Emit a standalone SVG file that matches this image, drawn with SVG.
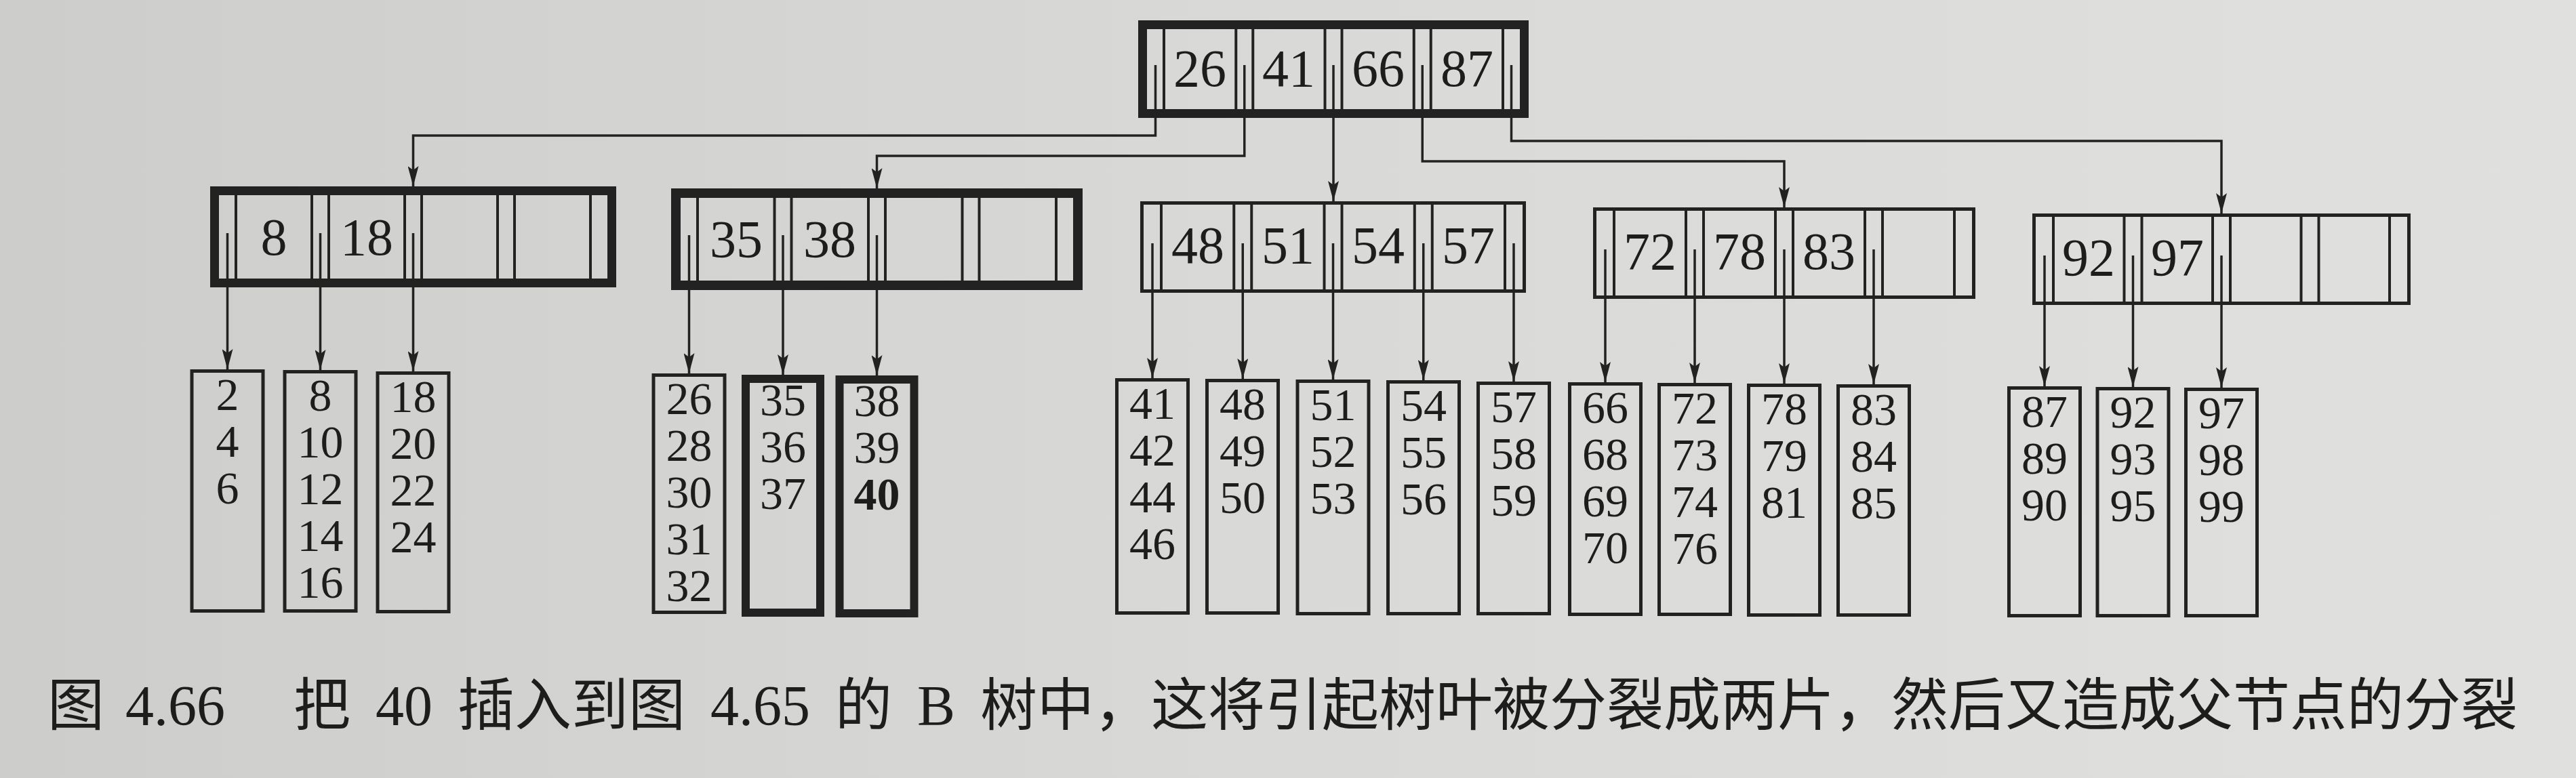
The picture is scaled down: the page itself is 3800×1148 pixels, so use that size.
<svg xmlns="http://www.w3.org/2000/svg" width="3800" height="1148" viewBox="0 0 3800 1148">
<defs>
<linearGradient id="paper" x1="0" y1="0" x2="1" y2="0">
<stop offset="0" stop-color="#cdcdcb"/>
<stop offset="0.5" stop-color="#d9d9d7"/>
<stop offset="1" stop-color="#e0e0de"/>
</linearGradient>
<marker id="arr" viewBox="0 0 30 16" refX="30" refY="8" markerWidth="30" markerHeight="16" markerUnits="userSpaceOnUse" orient="auto">
<path d="M0,0 L30,8 L0,16 L6,8 Z" fill="#222"/>
</marker>
</defs>
<style>
.thick{fill:none;stroke:#222;stroke-width:13}
.thickleaf{fill:none;stroke:#222;stroke-width:12}
.thin{fill:none;stroke:#222;stroke-width:5}
.div{fill:none;stroke:#222;stroke-width:4}
.key{font-family:"Liberation Serif","Times New Roman",serif;font-size:78px;fill:#1d1d1d;text-anchor:middle}
.lf{font-family:"Liberation Serif","Times New Roman",serif;font-size:68px;fill:#1d1d1d;text-anchor:middle}
.conn{fill:none;stroke:#222;stroke-width:3.5;marker-end:url(#arr)}
.cap{font-family:"Liberation Serif","Noto Sans CJK SC",serif;font-size:84px;fill:#1d1d1d}
</style>
<rect x="0" y="0" width="3800" height="1148" fill="url(#paper)"/>

<g id="connectors">
<path class="conn" d="M1704.5,96 V200 H609.5 V275"/>
<path class="conn" d="M1835.75,96 V230 H1293.5 V278"/>
<path class="conn" d="M1967,96 V297"/>
<path class="conn" d="M2098.25,96 V238 H2632 V306"/>
<path class="conn" d="M2229.5,96 V208 H3277 V315"/>
<path class="conn" d="M335.5,344 V545"/>
<path class="conn" d="M472.5,344 V546"/>
<path class="conn" d="M609.5,344 V548"/>
<path class="conn" d="M1016.5,347 V551"/>
<path class="conn" d="M1155,347 V553"/>
<path class="conn" d="M1293.5,347 V554"/>
<path class="conn" d="M1700,359 V558"/>
<path class="conn" d="M1833.25,359 V559"/>
<path class="conn" d="M1966.5,359 V560"/>
<path class="conn" d="M2099.75,359 V561"/>
<path class="conn" d="M2233,359 V563"/>
<path class="conn" d="M2368,368 V564"/>
<path class="conn" d="M2500,368 V565"/>
<path class="conn" d="M2632,368 V566"/>
<path class="conn" d="M2764,368 V567"/>
<path class="conn" d="M3016,377 V570"/>
<path class="conn" d="M3146.5,377 V571"/>
<path class="conn" d="M3277,377 V572"/>
</g>

<g id="root">
<rect class="thick" x="1685.5" y="36.5" width="563" height="131"/>
<path class="div" d="M1717,43V161 M1823.25,43V161 M1848.25,43V161 M1954.5,43V161 M1979.5,43V161 M2085.75,43V161 M2110.75,43V161 M2217,43V161"/>
<text class="key" x="1770" y="127">26</text>
<text class="key" x="1901" y="127">41</text>
<text class="key" x="2033" y="127">66</text>
<text class="key" x="2164" y="127">87</text>
</g>

<g id="node-8-18">
<rect class="thick" x="316.5" y="281.5" width="586" height="136"/>
<path class="div" d="M348,288V411 M460,288V411 M485,288V411 M597,288V411 M622,288V411 M734,288V411 M759,288V411 M871,288V411"/>
<text class="key" x="404" y="376">8</text>
<text class="key" x="541" y="376">18</text>
</g>

<g id="node-35-38">
<rect class="thick" x="997" y="285" width="593" height="136" style="stroke-width:14"/>
<path class="div" d="M1029,292V414 M1142.5,292V414 M1167.5,292V414 M1281,292V414 M1306,292V414 M1419.5,292V414 M1444.5,292V414 M1558,292V414"/>
<text class="key" x="1086" y="379">35</text>
<text class="key" x="1224" y="379">38</text>
</g>

<g id="node-48-57">
<rect class="thin" x="1684.5" y="299.5" width="564" height="130"/>
<path class="div" d="M1713,302V427 M1820.25,302V427 M1846.25,302V427 M1953.5,302V427 M1979.5,302V427 M2086.75,302V427 M2112.75,302V427 M2220,302V427"/>
<text class="key" x="1767" y="388">48</text>
<text class="key" x="1900" y="388">51</text>
<text class="key" x="2033" y="388">54</text>
<text class="key" x="2166" y="388">57</text>
</g>

<g id="node-72-83">
<rect class="thin" x="2352.5" y="308.5" width="559" height="130"/>
<path class="div" d="M2381,311V436 M2487,311V436 M2513,311V436 M2619,311V436 M2645,311V436 M2751,311V436 M2777,311V436 M2883,311V436"/>
<text class="key" x="2434" y="397">72</text>
<text class="key" x="2566" y="397">78</text>
<text class="key" x="2698" y="397">83</text>
</g>

<g id="node-92-97">
<rect class="thin" x="3000.5" y="317.5" width="553" height="130"/>
<path class="div" d="M3029,320V445 M3133.5,320V445 M3159.5,320V445 M3264,320V445 M3290,320V445 M3394.5,320V445 M3420.5,320V445 M3525,320V445"/>
<text class="key" x="3081" y="406">92</text>
<text class="key" x="3212" y="406">97</text>
</g>

<g id="leaf-2">
<rect class="thin" x="283" y="547.5" width="105" height="354"/>
<text class="lf" x="335.5" y="605"><tspan x="335.5">2</tspan><tspan x="335.5" dy="69">4</tspan><tspan x="335.5" dy="69">6</tspan></text>
</g>
<g id="leaf-8">
<rect class="thin" x="420" y="548.5" width="105" height="353"/>
<text class="lf" x="472.5" y="606"><tspan x="472.5">8</tspan><tspan x="472.5" dy="69">10</tspan><tspan x="472.5" dy="69">12</tspan><tspan x="472.5" dy="69">14</tspan><tspan x="472.5" dy="69">16</tspan></text>
</g>
<g id="leaf-18">
<rect class="thin" x="557" y="550.5" width="105" height="352"/>
<text class="lf" x="609.5" y="608"><tspan x="609.5">18</tspan><tspan x="609.5" dy="69">20</tspan><tspan x="609.5" dy="69">22</tspan><tspan x="609.5" dy="69">24</tspan></text>
</g>
<g id="leaf-26">
<rect class="thin" x="964" y="553.5" width="105" height="350"/>
<text class="lf" x="1016.5" y="611"><tspan x="1016.5">26</tspan><tspan x="1016.5" dy="69">28</tspan><tspan x="1016.5" dy="69">30</tspan><tspan x="1016.5" dy="69">31</tspan><tspan x="1016.5" dy="69">32</tspan></text>
</g>
<g id="leaf-35">
<rect class="thickleaf" x="1100" y="559" width="110" height="345"/>
<text class="lf" x="1155" y="613"><tspan x="1155">35</tspan><tspan x="1155" dy="69">36</tspan><tspan x="1155" dy="69">37</tspan></text>
</g>
<g id="leaf-38">
<rect class="thickleaf" x="1238.5" y="560" width="110" height="345"/>
<text class="lf" x="1293.5" y="614"><tspan x="1293.5">38</tspan><tspan x="1293.5" dy="69">39</tspan><tspan x="1293.5" dy="69" font-weight="bold">40</tspan></text>
</g>
<g id="leaf-41">
<rect class="thin" x="1647.5" y="560.5" width="105" height="344"/>
<text class="lf" x="1700" y="618"><tspan x="1700">41</tspan><tspan x="1700" dy="69">42</tspan><tspan x="1700" dy="69">44</tspan><tspan x="1700" dy="69">46</tspan></text>
</g>
<g id="leaf-48">
<rect class="thin" x="1780.5" y="561.5" width="105" height="343"/>
<text class="lf" x="1833" y="619"><tspan x="1833">48</tspan><tspan x="1833" dy="69">49</tspan><tspan x="1833" dy="69">50</tspan></text>
</g>
<g id="leaf-51">
<rect class="thin" x="1914" y="562.5" width="105" height="343"/>
<text class="lf" x="1966.5" y="620"><tspan x="1966.5">51</tspan><tspan x="1966.5" dy="69">52</tspan><tspan x="1966.5" dy="69">53</tspan></text>
</g>
<g id="leaf-54">
<rect class="thin" x="2047.5" y="563.5" width="105" height="342"/>
<text class="lf" x="2100" y="621"><tspan x="2100">54</tspan><tspan x="2100" dy="69">55</tspan><tspan x="2100" dy="69">56</tspan></text>
</g>
<g id="leaf-57">
<rect class="thin" x="2180.5" y="565.5" width="105" height="340"/>
<text class="lf" x="2233" y="623"><tspan x="2233">57</tspan><tspan x="2233" dy="69">58</tspan><tspan x="2233" dy="69">59</tspan></text>
</g>
<g id="leaf-66">
<rect class="thin" x="2315.5" y="566.5" width="105" height="340"/>
<text class="lf" x="2368" y="624"><tspan x="2368">66</tspan><tspan x="2368" dy="69">68</tspan><tspan x="2368" dy="69">69</tspan><tspan x="2368" dy="69">70</tspan></text>
</g>
<g id="leaf-72">
<rect class="thin" x="2447.5" y="567.5" width="105" height="339"/>
<text class="lf" x="2500" y="625"><tspan x="2500">72</tspan><tspan x="2500" dy="69">73</tspan><tspan x="2500" dy="69">74</tspan><tspan x="2500" dy="69">76</tspan></text>
</g>
<g id="leaf-78">
<rect class="thin" x="2579.5" y="568.5" width="105" height="339"/>
<text class="lf" x="2632" y="626"><tspan x="2632">78</tspan><tspan x="2632" dy="69">79</tspan><tspan x="2632" dy="69">81</tspan></text>
</g>
<g id="leaf-83">
<rect class="thin" x="2711.5" y="569.5" width="105" height="338"/>
<text class="lf" x="2764" y="627"><tspan x="2764">83</tspan><tspan x="2764" dy="69">84</tspan><tspan x="2764" dy="69">85</tspan></text>
</g>
<g id="leaf-87">
<rect class="thin" x="2963.5" y="572.5" width="105" height="336"/>
<text class="lf" x="3016" y="630"><tspan x="3016">87</tspan><tspan x="3016" dy="69">89</tspan><tspan x="3016" dy="69">90</tspan></text>
</g>
<g id="leaf-92">
<rect class="thin" x="3094" y="573.5" width="105" height="335"/>
<text class="lf" x="3146.5" y="631"><tspan x="3146.5">92</tspan><tspan x="3146.5" dy="69">93</tspan><tspan x="3146.5" dy="69">95</tspan></text>
</g>
<g id="leaf-97">
<rect class="thin" x="3224.5" y="574.5" width="105" height="334"/>
<text class="lf" x="3277" y="632"><tspan x="3277">97</tspan><tspan x="3277" dy="69">98</tspan><tspan x="3277" dy="69">99</tspan></text>
</g>

<g id="caption">
<text class="cap" x="70" y="1070">图</text>
<text class="cap" x="185" y="1070">4.66</text>
<text class="cap" x="433" y="1070">把</text>
<text class="cap" x="554" y="1070">40</text>
<text class="cap" x="675" y="1070">插入到图</text>
<text class="cap" x="1048" y="1070">4.65</text>
<text class="cap" x="1232" y="1070">的</text>
<text class="cap" x="1353" y="1070">B</text>
<text class="cap" x="1446" y="1070" textLength="2268" lengthAdjust="spacing">树中，这将引起树叶被分裂成两片，然后又造成父节点的分裂</text>
</g>
</svg>
